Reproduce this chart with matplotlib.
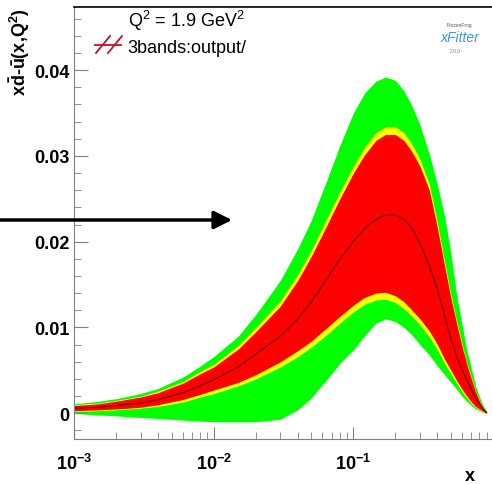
import matplotlib
matplotlib.use("Agg")
import matplotlib.pyplot as plt
from matplotlib.patches import FancyArrowPatch
from matplotlib.lines import Line2D
import numpy as np

plt.rcParams['font.family'] = ['Liberation Sans', 'DejaVu Sans']
plt.rcParams['mathtext.fontset'] = 'custom'
plt.rcParams['mathtext.rm'] = 'Liberation Sans'
plt.rcParams['mathtext.it'] = 'Liberation Sans:italic'
plt.rcParams['mathtext.bf'] = 'Liberation Sans:bold'

# x grid and bands
x = [0.001, 0.0015, 0.002, 0.003, 0.004, 0.006, 0.008, 0.01, 0.015, 0.02,
     0.03, 0.04, 0.05, 0.065, 0.08, 0.1, 0.12, 0.145, 0.17, 0.2, 0.23, 0.26,
     0.3, 0.35, 0.4, 0.45, 0.5, 0.55, 0.6, 0.65, 0.7, 0.75, 0.8, 0.85, 0.9]
central = [0.0006, 0.0007, 0.0009, 0.0012, 0.0016, 0.0024, 0.0032, 0.0039,
           0.0054, 0.0069, 0.0090, 0.0110, 0.0130, 0.0157, 0.0180, 0.0200,
           0.0215, 0.0226, 0.0231, 0.0231, 0.0226, 0.0217, 0.0198, 0.0172,
           0.0145, 0.0114, 0.0086, 0.0066, 0.0051, 0.0039, 0.0028, 0.0018,
           0.0011, 0.0005, 0.0001]
red_hi = [0.0009, 0.0011, 0.0014, 0.0019, 0.0024, 0.0035, 0.0046, 0.0054,
          0.0075, 0.0095, 0.0125, 0.0155, 0.0183, 0.0220, 0.0250, 0.0280,
          0.0301, 0.0318, 0.0325, 0.0325, 0.0318, 0.0306, 0.0288, 0.0260,
          0.0216, 0.0172, 0.0134, 0.0104, 0.0078, 0.0057, 0.0040, 0.0025,
          0.0014, 0.0006, 0.0001]
red_lo = [0.0003, 0.0004, 0.0005, 0.0007, 0.0010, 0.0016, 0.0022, 0.0027,
          0.0036, 0.0045, 0.0060, 0.0073, 0.0084, 0.0100, 0.0113, 0.0126,
          0.0135, 0.0140, 0.0141, 0.0137, 0.0130, 0.0121, 0.0110, 0.0096,
          0.0080, 0.0063, 0.0050, 0.0038, 0.0028, 0.0020, 0.0013, 0.0008,
          0.0005, 0.0002, 0.0000]
yel_hi = [0.0010, 0.0012, 0.0015, 0.0020, 0.0026, 0.0037, 0.0049, 0.0057,
          0.0079, 0.0100, 0.0131, 0.0162, 0.0190, 0.0228, 0.0258, 0.0288,
          0.0310, 0.0327, 0.0334, 0.0334, 0.0327, 0.0315, 0.0296, 0.0267,
          0.0222, 0.0177, 0.0138, 0.0107, 0.0081, 0.0059, 0.0042, 0.0026,
          0.0015, 0.0006, 0.0001]
yel_lo = [0.0002, 0.0003, 0.0004, 0.0006, 0.0008, 0.0013, 0.0019, 0.0023,
          0.0032, 0.0040, 0.0054, 0.0066, 0.0077, 0.0092, 0.0105, 0.0118,
          0.0127, 0.0132, 0.0133, 0.0129, 0.0122, 0.0114, 0.0103, 0.0089,
          0.0074, 0.0058, 0.0046, 0.0035, 0.0025, 0.0018, 0.0011, 0.0007,
          0.0004, 0.0001, 0.0000]
grn_hi = [0.0011, 0.0014, 0.0017, 0.0023, 0.0029, 0.0042, 0.0055, 0.0066,
          0.0090, 0.0115, 0.0155, 0.0192, 0.0225, 0.0273, 0.0312, 0.0350,
          0.0373, 0.0387, 0.0392, 0.0388, 0.0376, 0.0360, 0.0336, 0.0302,
          0.0266, 0.0230, 0.0186, 0.0137, 0.0104, 0.0073, 0.0052, 0.0032,
          0.0019, 0.0009, 0.0002]
grn_lo = [0.0000, -0.0002, -0.0003, -0.0005, -0.0006, -0.0008, -0.0009,
          -0.0010, -0.0010, -0.0010, -0.0007, 0.0004, 0.0018, 0.0040, 0.0058,
          0.0074, 0.0090, 0.0105, 0.0110, 0.0107, 0.0100, 0.0092, 0.0080,
          0.0068, 0.0055, 0.0045, 0.0036, 0.0028, 0.0020, 0.0014, 0.0009,
          0.0005, 0.0003, 0.0001, 0.0000]

xticks = [1e-3, 1e-2, 1e-1]
xticklabels = [r'$\mathbf{10^{-3}}$', r'$\mathbf{10^{-2}}$', r'$\mathbf{10^{-1}}$']
yticks = [0, 0.01, 0.02, 0.03, 0.04]
yticklabels = ['0', '0.01', '0.02', '0.03', '0.04']

W, H = 492, 485
fig = plt.figure(figsize=(W / 100, H / 100), dpi=100)
ax = fig.add_axes([74 / W, 45 / H, 419 / W, 432 / H])

ax.fill_between(x, grn_lo, grn_hi, color='#00ff00', lw=0)
ax.fill_between(x, yel_lo, yel_hi, color='#ffff00', lw=0)
ax.fill_between(x, red_lo, red_hi, color='#ff0000', lw=0)
ax.plot(x, central, color='#6a0000', lw=0.8)

ax.set_xscale('log')
ax.set_xlim(1e-3, 1)
ax.set_ylim(-0.0030, 0.04735)
ax.set_xticks(xticks)
ax.set_xticklabels(xticklabels)
ax.set_yticks(yticks)
ax.set_yticklabels(yticklabels, fontweight='bold')
ax.set_yticks(np.arange(-0.002, 0.047, 0.002), minor=True)

ax.tick_params(which='both', direction='in', colors='#808080', labelcolor='black',
               labelsize=13, top=False, right=False)
ax.tick_params(axis='y', which='major', length=10, pad=3)
ax.tick_params(axis='y', which='minor', length=5)
ax.tick_params(axis='x', which='major', length=9, pad=10)
ax.tick_params(axis='x', which='minor', length=5)
for s in ['left', 'bottom']:
    ax.spines[s].set_color('#808080')
ax.spines['top'].set_color('black')
ax.spines['top'].set_linewidth(1.2)
ax.spines['right'].set_visible(False)

# axis titles
fig.text(20 / W, 1 - 8 / H,
         r'x$\mathbf{\bar{d}}$-$\mathbf{\bar{u}}$(x,Q$^{\mathbf{2}}$)',
         rotation=90, ha='center', va='top', fontsize=13, fontweight='bold')
fig.text(470 / W, 1 - 477 / H, 'x', ha='center', va='center',
         fontsize=13, fontweight='bold')

# legend
fig.text(128 / W, 1 - 27 / H, r'Q$^{2}$ = 1.9 GeV$^{2}$', ha='left',
         va='baseline', fontsize=13)
fig.text(127 / W, 1 - 53 / H, '3bands:output/', ha='left', va='baseline',
         fontsize=13)
for xa, xb, ya, yb in [(95, 121, 46, 46), (96, 110, 54, 37), (108, 122, 54, 37)]:
    fig.add_artist(Line2D([xa / W, xb / W], [1 - ya / H, 1 - yb / H],
                          transform=fig.transFigure, color='#c0102a', lw=1.3))

# logo
fig.text(447 / W, 1 - 25 / H, 'FrozenFrog', fontsize=3.5, color='#555555',
         ha='left', va='center')
fig.text(460 / W, 1 - 38 / H, 'xFitter', fontsize=10, color='#3399dd',
         style='italic', ha='center', va='center')
fig.text(450 / W, 1 - 52 / H, '2.0.0', fontsize=3.5, color='#777777',
         ha='left', va='center')

# arrow
fig.add_artist(FancyArrowPatch(
    (0, 1 - 221 / H), (232 / W, 1 - 221 / H), transform=fig.transFigure,
    arrowstyle='-|>,head_length=0.6,head_width=0.3', mutation_scale=18,
    lw=2.5, color='black', shrinkA=0, shrinkB=0))

fig.savefig('out.png', dpi=100)
